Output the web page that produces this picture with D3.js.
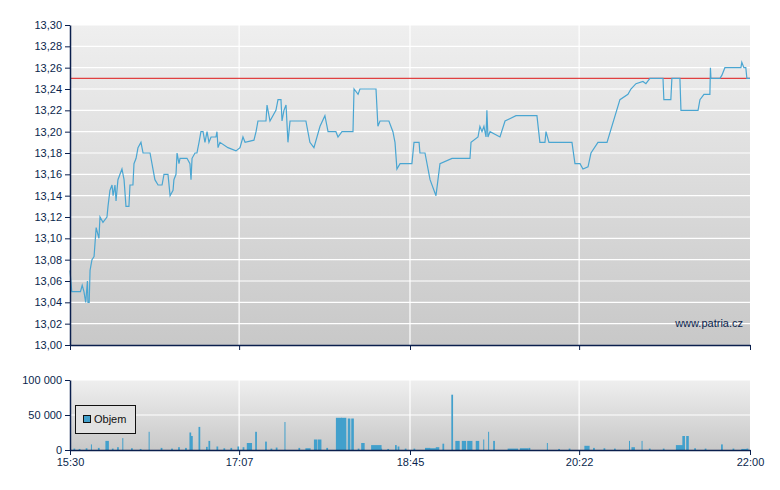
<!DOCTYPE html><html><head><meta charset="utf-8">
<script src="https://cdn.jsdelivr.net/npm/d3@7"></script>
<style>body{margin:0;background:#fff}text{font-family:"Liberation Sans",Arial,sans-serif;font-size:11px;fill:#0a1f4d}</style>
</head><body><svg id="c" width="780" height="490"></svg><script>
// minutes after 15:30
const priceMin=[0,1,3,6,7,8,9,10,10.3,11,11.5,12.6,13.8,15,16.6,17.2,18.9,21.2,21.8,22.9,24.1,24.7,25.8,26.4,27.5,29.8,31,32.1,33.8,34.4,36.1,36.7,37.9,39,40.7,41.9,45.9,48.7,50.5,52.8,53.9,56.2,57.4,59.1,59.6,60.8,61.4,62.5,63.1,67.1,68.8,69.4,70,71.7,72.8,74,75.1,76.3,77.4,78.6,79.7,80.9,83.7,84.3,84.9,86,90.6,95.2,97.5,99.2,100.4,105.5,106.7,107.8,112.4,113,114.7,118.1,119.3,121,121.6,122.7,123.9,125,126.2,135.3,137.6,139.9,143.4,146.2,148,152.5,153.7,156,162.3,162.9,165.2,166.3,175.5,176.6,177.8,182.9,185.2,186.4,187.5,189.3,196.1,197.3,200.2,200.7,203.6,206.5,209.9,212.2,219.1,229.4,230,234,235.1,236.3,237.4,238.6,239.1,239.7,240.9,246.6,249.5,255.8,267.8,269.5,272.4,273,274.7,287.9,289.6,292.5,294.2,297.1,298.8,302.8,308,315.4,320,321.7,324.6,328.6,330.3,332.6,340.1,340.6,344.6,345.2,349.8,350.4,360.2,361.3,363.6,367,367.3,367.6,372.8,373.9,375.6,384.8,385.3,386.5,387.6,388.2,390];
const priceVal=[13.07,13.05,13.05,13.05,13.056,13.05,13.04,13.06,13.04,13.04,13.07,13.08,13.083,13.11,13.10,13.12,13.115,13.12,13.13,13.145,13.15,13.14,13.15,13.135,13.155,13.165,13.155,13.13,13.13,13.15,13.15,13.17,13.175,13.185,13.19,13.18,13.18,13.155,13.15,13.15,13.16,13.16,13.14,13.145,13.155,13.16,13.18,13.17,13.175,13.175,13.17,13.155,13.175,13.18,13.18,13.19,13.20,13.20,13.19,13.20,13.19,13.195,13.195,13.20,13.185,13.19,13.185,13.182,13.185,13.195,13.19,13.192,13.20,13.21,13.21,13.225,13.21,13.22,13.23,13.23,13.21,13.22,13.225,13.19,13.21,13.21,13.19,13.185,13.205,13.215,13.20,13.20,13.195,13.20,13.20,13.24,13.235,13.24,13.24,13.205,13.21,13.21,13.20,13.19,13.165,13.17,13.17,13.19,13.19,13.18,13.18,13.155,13.14,13.17,13.175,13.175,13.19,13.195,13.205,13.20,13.205,13.195,13.22,13.195,13.20,13.195,13.21,13.215,13.215,13.19,13.19,13.20,13.19,13.19,13.17,13.17,13.165,13.167,13.18,13.19,13.19,13.23,13.235,13.24,13.245,13.247,13.245,13.25,13.25,13.23,13.23,13.25,13.25,13.22,13.22,13.23,13.235,13.235,13.26,13.25,13.25,13.253,13.26,13.26,13.265,13.26,13.26,13.25,13.25];
const refPrice=13.25;
const volMin=[20.3,30,45.1,68.5,69.4,73.7,79.4,101.4,106.2,111.9,123,139.9,142.2,152.5,155.5,159.3,161.3,167,172.7,186.4,187.9,203.6,209.8,213.6,218.7,221,224.7,227.8,232.7,237,239.8,242.7,273.5,295,320.6,322,327.8,347.5,351.2,353.4,373.4,
  2,5,9,12,16,24,27,35,40,52,58,62,66,78,84,88,92,96,99,115,118,131,135,147,165,178,182,192,197,206,251,258,263,280,286,300,306,312,332,340,358,364,380,385,388];
const volVal=[13000,17000,26000,25000,20000,33000,13000,10000,26000,12000,40000,15000,15000,46000,46000,45000,45000,10000,7000,7000,5000,3000,4000,9000,79000,13000,13000,13000,13000,15000,26000,13000,10000,6000,13000,4000,13000,7000,20000,20000,8000,
  2000,1500,2500,8000,3000,2000,4000,2500,1500,3000,2000,4000,3000,4500,5000,2500,3000,5000,4000,2000,3500,3000,2500,3000,2000,2000,1500,2000,2000,2500,2000,2500,3000,1500,2000,3000,2500,2000,2000,2000,2500,2000,2000,1500,2000,5000];
const volW=[2,0.5,0.5,1,1,1,1,3,1,1,0.5,2,2,3.5,3,1.5,1.5,2,6,1,1,3,2,1,1,2.5,2.5,3,2,0.5,0.5,1,0.5,3,0.5,2,0.5,5,1.5,1.5,1,
  1,1,1,0.5,1,1,1,1,1,1,1,1,1,1,1,1,1,1,1,1,1,1,3,1,1,1,1,1,1,4,6,5,1,1,1,1,1,1,1,1,1,1,1,4,1,1];
const xTicks=["15:30","17:07","18:45","20:22","22:00"];
const xTickMin=[0,97,195,292,390];
const yTicks=[13.00,13.02,13.04,13.06,13.08,13.10,13.12,13.14,13.16,13.18,13.20,13.22,13.24,13.26,13.28,13.30];
const vTicks=[0,50000,100000];

const svg=d3.select("#c"), L=70,R=750;
const x=d3.scaleLinear().domain([0,390]).range([L,R]);
const y=d3.scaleLinear().domain([13.00,13.30]).range([345,25]);
const vy=d3.scaleLinear().domain([0,100000]).range([450,380]);
const fmt=v=>v.toFixed(2).replace(".",",");
const defs=svg.append("defs");
const g=defs.append("linearGradient").attr("id","bg").attr("x1",0).attr("x2",0).attr("y1",0).attr("y2",1);
g.append("stop").attr("offset",0).attr("stop-color","#efefef");
g.append("stop").attr("offset",1).attr("stop-color","#c8c8c8");
const g2=defs.append("linearGradient").attr("id","bg2").attr("x1",0).attr("x2",0).attr("y1",0).attr("y2",1);
g2.append("stop").attr("offset",0).attr("stop-color","#efefef");
g2.append("stop").attr("offset",1).attr("stop-color","#c8c8c8");

function panel(top,bot,grid,fill){
  svg.append("rect").attr("x",L).attr("y",top).attr("width",R-L).attr("height",bot-top).attr("fill",fill);
  svg.append("g").selectAll("line").data(grid).join("line").attr("x1",L).attr("x2",R).attr("y1",d=>d).attr("y2",d=>d).attr("stroke","#fff").attr("stroke-width",1.2);
  svg.append("g").selectAll("line").data(xTickMin.slice(1,4)).join("line").attr("x1",d=>x(d)).attr("x2",d=>x(d)).attr("y1",top).attr("y2",bot).attr("stroke","#fff").attr("stroke-width",1.2);
}
panel(25,345,yTicks.slice(1).map(y),"url(#bg)");
panel(380,450,vTicks.slice(1).map(vy),"url(#bg2)");

svg.append("line").attr("x1",L).attr("x2",R).attr("y1",y(refPrice)).attr("y2",y(refPrice)).attr("stroke","#e04040").attr("stroke-width",1.2);
const pts=priceMin.map((m,i)=>[x(m),y(priceVal[i])]);
svg.append("path").attr("d",d3.line()(pts)).attr("fill","none").attr("stroke","#4aa6d2").attr("stroke-width",1.2);
svg.append("text").attr("x",743).attr("y",327).attr("text-anchor","end").text("www.patria.cz");

svg.append("g").selectAll("rect").data(volMin.map((m,i)=>({m,v:volVal[i],w:volW[i]}))).join("rect")
 .attr("x",d=>x(d.m)).attr("width",d=>Math.max(1,x(d.w)-x(0))).attr("y",d=>vy(d.v)).attr("height",d=>450-vy(d.v)).attr("fill","#42a0cc");

const ya=svg.append("g").attr("transform",`translate(${L},0)`).call(d3.axisLeft(y).tickValues(yTicks).tickFormat(fmt).tickSize(5).tickSizeOuter(0));
const xa=svg.append("g").attr("transform","translate(0,345)").call(d3.axisBottom(x).tickValues(xTickMin).tickFormat("").tickSize(5).tickSizeOuter(0));
const va=svg.append("g").attr("transform",`translate(${L},0)`).call(d3.axisLeft(vy).tickValues(vTicks).tickFormat(d=>d3.format(",")(d).replace(","," ")).tickSize(5).tickSizeOuter(0));
const xb=svg.append("g").attr("transform","translate(0,450)").call(d3.axisBottom(x).tickValues(xTickMin).tickFormat((d,i)=>xTicks[i]).tickSize(5).tickSizeOuter(0));
[ya,xa,va,xb].forEach(a=>{a.select(".domain").attr("stroke","#0a1f4d").attr("stroke-width",1.5);a.selectAll("line").attr("stroke","#0a1f4d");a.selectAll("text").attr("fill","#0a1f4d").style("font-size","11px")});

svg.append("rect").attr("x",75.5).attr("y",405.5).attr("width",60).attr("height",28).attr("fill","#e2e2e2").attr("stroke","#111");
svg.append("rect").attr("x",83.5).attr("y",415.5).attr("width",7).attr("height",7).attr("fill","#42a0cc").attr("stroke","#111");
svg.append("text").attr("x",94).attr("y",423).text("Objem").style("fill","#111");
</script></body></html>
